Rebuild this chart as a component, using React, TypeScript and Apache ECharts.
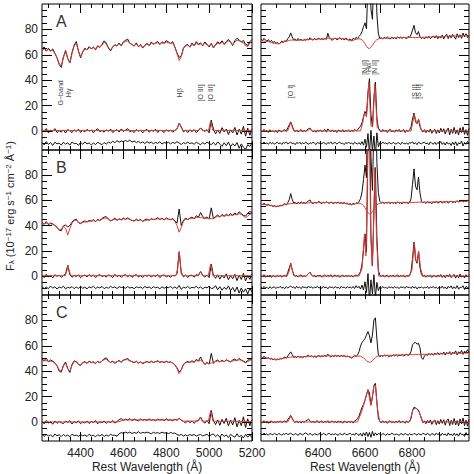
import React, { useEffect, useRef } from 'react';
import * as echarts from 'echarts';

// ---------- axes ----------
const LEFT_MIN = 4220, LEFT_MAX = 5200, LEFT_STEP = 10;
const RIGHT_MIN = 6200, RIGHT_MAX = 6900, RIGHT_STEP = 5;
const Y_MIN = -15, Y_MAX = 100;
const Y_LABELS = [0, 20, 40, 60, 80];
const LEFT_TICKS = [4400, 4600, 4800, 5000, 5200];
const RIGHT_TICKS = [6400, 6600, 6800];
const PANEL_LETTERS = ['A', 'B', 'C'];
const X_TITLE = 'Rest Wavelength (Å)';

// ---------- panel A, blue side (4220-5200, every 10 Å) ----------
const A_L_OBS = [
  64.5, 66.2, 62.8, 65.1, 63.0, 64.6, 61.2, 57.8, 52.4, 50.1,
  58.3, 63.4, 57.2, 53.6, 61.8, 67.5, 70.4, 63.1, 57.6, 62.4,
  65.2, 63.8, 66.4, 64.7, 66.1, 63.9, 67.2, 65.8, 68.3, 71.0,
  69.2, 65.4, 63.1, 66.3, 68.0, 66.9, 69.3, 67.1, 70.2, 71.4,
  72.3, 69.0, 68.2, 66.8, 69.4, 66.2, 68.1, 65.3, 67.4, 69.1,
  67.2, 70.1, 68.3, 69.5, 70.4, 68.1, 70.2, 69.0, 71.2, 70.1,
  68.9, 70.3, 66.2, 61.4, 57.9, 59.3, 65.2, 67.4, 68.1, 66.0,
  69.2, 67.1, 70.3, 68.2, 69.4, 67.0, 70.1, 68.3, 66.2, 69.0,
  65.4, 68.1, 70.2, 68.8, 71.0, 68.2, 70.4, 72.1, 70.0, 67.3,
  71.2, 73.0, 71.8, 70.1, 71.3, 68.2, 67.4, 70.3, 72.0,
];
const A_L_MOD = [
  63.5, 64.5, 63.5, 64.0, 63.0, 63.5, 61.0, 57.5, 53.0, 51.5,
  58.0, 62.5, 57.0, 53.5, 61.0, 67.0, 69.0, 63.0, 58.5, 62.0,
  64.5, 64.0, 65.5, 65.0, 65.5, 64.5, 66.5, 66.0, 67.5, 70.0,
  68.5, 65.5, 64.0, 66.0, 67.5, 67.0, 68.5, 67.5, 69.5, 70.5,
  71.0, 69.0, 68.0, 67.0, 68.5, 66.5, 67.5, 66.0, 67.0, 68.5,
  67.5, 69.0, 68.5, 69.0, 69.5, 68.5, 69.5, 69.0, 70.0, 69.5,
  69.0, 69.5, 66.0, 61.0, 55.5, 58.5, 65.0, 67.0, 67.5, 66.5,
  68.0, 67.5, 69.0, 68.0, 68.5, 67.5, 69.0, 68.0, 66.5, 68.5,
  66.0, 67.5, 69.0, 68.5, 70.0, 68.5, 69.5, 71.0, 70.0, 68.0,
  70.0, 71.5, 71.0, 70.0, 69.5, 67.0, 66.5, 69.0, 71.0,
];
const A_L_EM = [
  1.2, -0.8, 1.9, -1.5, 0.6, -0.4, 1.8, -1.2, 0.3, -0.9,
  0.8, -1.6, 1.1, 0.2, -1.3, 0.9, -0.5, 1.4, -1.1, 0.5,
  -0.7, 1.3, -0.2, 0.8, -1.4, 0.6, 1.7, -0.6, 0.4, -1.0,
  0.9, -0.3, 1.5, -1.2, 0.2, 1.0, -0.8, 1.6, -0.4, 0.7,
  1.8, -0.6, 0.3, -1.3, 1.1, -0.2, 0.7, -1.5, 0.4, 1.2,
  -0.9, 0.6, -0.3, 1.4, -1.1, 0.5, 0.2, -1.2, 0.9, -0.4,
  0.7, -1.0, 0.4, 1.6, 6.1, 3.2, -0.8, 0.6, -1.2, 0.9,
  -0.5, 1.1, -1.4, 0.3, 2.4, 0.6, -0.3, 1.0, -1.5, 8.6,
  1.4, -2.3, 0.8, -1.9, 2.6, -0.7, 1.5, -2.8, 0.9, -1.6,
  2.8, -3.2, 1.4, -2.5, 3.6, -4.1, 2.2, -3.4, 1.6,
];
const A_L_EM_MOD = [
  [4220, 0.4], [4845, 0.4], [4855, 3.5], [4862, 5.8], [4870, 2.5], [4880, 0.4],
  [4950, 0.4], [4959, 2.2], [4968, 0.4], [4997, 0.4], [5007, 8.0], [5017, 0.4], [5200, 0.4],
];
const A_L_RES = [
  -9.2, -11.0, -8.4, -10.6, -9.1, -11.4, -8.8, -10.2, -9.6, -11.1,
  -8.9, -10.4, -9.3, -11.2, -8.7, -10.0, -9.8, -11.3, -9.0, -10.5,
  -8.6, -10.2, -9.4, -11.0, -9.5, -10.7, -8.9, -9.9, -10.8, -9.1,
  -10.3, -8.8, -9.6, -8.1, -9.2, -7.6, -8.9, -7.9, -8.5, -7.4,
  -8.3, -7.2, -8.8, -7.9, -9.1, -8.2, -9.5, -8.6, -9.9, -8.4,
  -9.6, -8.8, -10.1, -9.0, -9.8, -8.5, -10.3, -9.1, -9.7, -8.9,
  -10.2, -9.0, -9.8, -8.4, -9.5, -10.6, -9.2, -10.1, -8.8, -9.9,
  -9.3, -10.5, -8.9, -9.8, -10.9, -9.2, -10.4, -8.7, -9.9, -10.8,
  -9.0, -11.2, -8.6, -10.4, -12.1, -9.3, -11.5, -8.8, -12.4, -10.0,
  -11.8, -9.1, -13.6, -10.2, -12.9, -14.5, -10.8, -12.2, -9.6,
];

// ---------- panel B, blue side ----------
const B_L_OBS = [
  42.6, 41.0, 43.2, 40.8, 42.1, 41.5, 40.2, 38.6, 36.4, 36.0,
  39.8, 40.6, 38.9, 40.2, 42.8, 44.5, 45.1, 42.4, 41.6, 43.0,
  43.8, 42.9, 44.2, 43.5, 44.8, 43.2, 45.0, 44.1, 45.6, 46.8,
  47.1, 45.2, 43.8, 44.6, 45.9, 44.3, 45.4, 44.7, 46.0, 45.1,
  46.2, 45.0, 44.1, 43.6, 45.2, 44.0, 44.9, 43.4, 44.6, 45.3,
  44.1, 45.6, 44.8, 45.2, 46.3, 45.0, 45.8, 44.6, 46.1, 45.2,
  44.7, 45.6, 43.9, 42.0, 53.2, 40.1, 44.2, 46.0, 44.8, 45.9,
  46.8, 45.5, 47.9, 46.6, 50.4, 47.2, 45.8, 46.9, 45.3, 54.1,
  45.6, 47.2, 48.4, 46.8, 48.9, 47.5, 49.1, 47.8, 49.6, 48.2,
  50.1, 48.7, 51.0, 49.4, 48.2, 47.6, 49.8, 51.2, 50.4,
];
const B_L_MOD = [
  42.0, 41.5, 42.0, 41.5, 41.5, 41.0, 40.0, 38.5, 36.5, 37.0,
  39.5, 38.0, 32.5, 37.5, 42.0, 44.0, 44.5, 42.5, 42.0, 42.5,
  43.0, 43.0, 43.5, 43.5, 44.0, 43.5, 44.5, 44.0, 45.0, 46.0,
  46.0, 45.0, 44.0, 44.5, 45.0, 44.5, 45.0, 44.5, 45.5, 45.0,
  45.5, 45.0, 44.0, 44.0, 44.5, 44.0, 44.5, 43.5, 44.0, 44.5,
  44.5, 45.0, 45.0, 45.0, 45.5, 45.0, 45.5, 45.0, 45.5, 45.0,
  45.0, 45.0, 43.5, 40.0, 34.8, 38.5, 43.5, 45.0, 45.0, 45.5,
  46.0, 45.5, 46.5, 46.5, 46.5, 46.0, 45.5, 46.0, 45.5, 45.5,
  45.5, 46.5, 47.5, 47.0, 48.0, 47.5, 48.0, 48.0, 48.5, 48.0,
  49.0, 48.5, 49.5, 49.0, 47.5, 46.5, 47.5, 49.0, 49.5,
];
const B_L_EM = [
  0.9, -1.2, 1.5, -0.6, 0.3, -1.4, 1.1, -0.2, 0.7, -1.0,
  0.5, 1.8, 8.4, 1.2, -0.9, 0.6, -0.4, 1.0, -1.3, 0.2,
  0.8, -0.7, 1.2, -0.3, 0.9, -1.1, 0.4, 1.3, -0.5, 0.6,
  -0.8, 1.0, 0.2, -1.2, 1.4, -0.4, 0.7, -0.9, 0.5, 1.1,
  -0.6, 0.9, -1.0, 0.4, 1.2, -0.7, 0.3, -1.1, 0.8, -0.2,
  1.0, -0.8, 0.6, -0.3, 1.1, -1.2, 0.5, 0.9, -0.6, 0.3,
  -1.0, 0.7, 0.2, 1.8, 19.2, 2.1, -0.6, 0.9, -1.1, 0.4,
  0.8, -0.9, 1.2, 0.5, 3.6, 0.7, -0.8, 0.9, -1.2, 9.6,
  0.4, -1.8, 1.0, -2.4, 0.6, -1.5, 1.8, -2.9, 0.3, -2.1,
  1.4, -3.6, 0.8, -2.7, 2.2, -3.9, 0.5, -2.6, 1.9,
];
const B_L_EM_MOD = [
  [4220, 0.3], [4328, 0.3], [4336, 4], [4341, 8.8], [4347, 4], [4355, 0.3],
  [4845, 0.3], [4853, 6], [4861, 19.5], [4868, 6], [4876, 0.3],
  [4948, 0.3], [4959, 3.4], [4970, 0.3], [4996, 0.3], [5007, 9.6], [5018, 0.3], [5200, 0.3],
];
const B_L_RES = [
  -8.2, -10.1, -8.8, -9.9, -7.9, -9.6, -8.4, -10.3, -8.7, -9.4,
  -8.0, -10.2, -8.9, -9.5, -8.3, -10.0, -8.6, -9.8, -8.1, -9.7,
  -8.8, -10.1, -8.5, -9.3, -8.0, -9.9, -8.7, -9.4, -8.2, -10.0,
  -8.9, -9.6, -8.1, -9.2, -8.6, -9.9, -8.4, -9.1, -8.8, -9.7,
  -8.3, -9.5, -8.9, -10.0, -8.5, -9.2, -8.7, -9.8, -8.2, -9.4,
  -8.6, -9.9, -8.4, -9.3, -8.8, -10.1, -8.5, -9.6, -8.9, -9.2,
  -8.3, -9.7, -8.6, -9.9, -7.4, -10.6, -8.7, -9.5, -8.2, -9.8,
  -8.9, -9.4, -8.1, -9.7, -8.5, -10.2, -8.8, -9.3, -8.0, -9.9,
  -9.5, -7.6, -10.8, -8.4, -11.2, -8.9, -10.5, -7.8, -11.6, -9.0,
  -12.3, -8.6, -13.5, -9.4, -12.8, -10.1, -14.2, -9.7, -12.6,
];

// ---------- panel C, blue side ----------
const C_L_OBS = [
  49.6, 48.2, 50.3, 47.4, 48.8, 47.9, 46.5, 44.3, 40.1, 39.2,
  44.6, 47.2, 42.1, 39.0, 45.3, 48.1, 47.6, 45.2, 44.6, 46.8,
  47.5, 46.1, 48.0, 46.8, 47.3, 45.9, 47.8, 46.5, 48.2, 49.7,
  50.6, 48.1, 46.9, 47.8, 46.2, 47.4, 48.5, 46.9, 48.8, 49.4,
  49.9, 48.3, 47.5, 46.6, 47.9, 46.3, 47.4, 45.8, 46.9, 47.7,
  46.5, 47.9, 46.8, 47.5, 48.2, 47.0, 47.6, 46.8, 47.9, 46.9,
  47.3, 46.4, 45.1, 42.6, 39.3, 41.2, 45.4, 46.8, 47.6, 46.9,
  48.2, 47.1, 49.3, 48.0, 51.2, 47.6, 45.2, 46.8, 45.5, 54.0,
  46.3, 47.9, 48.8, 47.2, 48.6, 47.4, 49.0, 48.1, 47.3, 48.8,
  49.5, 48.2, 50.1, 48.7, 47.9, 47.0, 48.4, 49.6, 49.2,
];
const C_L_MOD = [
  48.5, 48.0, 48.5, 47.5, 48.0, 47.5, 46.5, 44.5, 41.0, 40.0,
  44.0, 46.5, 42.0, 40.0, 44.5, 47.5, 47.5, 45.5, 45.0, 46.5,
  47.0, 46.5, 47.5, 47.0, 47.0, 46.5, 47.5, 47.0, 48.0, 49.0,
  49.5, 48.0, 47.0, 47.5, 47.0, 47.5, 48.0, 47.5, 48.5, 49.0,
  49.0, 48.0, 47.5, 47.0, 47.5, 46.5, 47.0, 46.5, 47.0, 47.5,
  47.0, 47.5, 47.0, 47.5, 47.5, 47.0, 47.5, 47.0, 47.5, 47.0,
  47.0, 46.5, 45.0, 42.0, 38.0, 41.0, 45.0, 46.5, 47.0, 47.0,
  47.5, 47.0, 48.5, 48.0, 48.5, 47.5, 46.0, 46.5, 46.0, 46.5,
  46.5, 47.5, 48.0, 47.5, 48.0, 47.5, 48.5, 48.0, 47.5, 48.0,
  48.5, 48.5, 49.0, 48.5, 47.5, 46.5, 47.5, 48.5, 49.0,
];
const C_L_EM = [
  0.6, -1.5, 1.1, -0.9, 0.2, -1.8, 0.8, -1.1, 0.4, -0.6,
  -1.3, 0.7, -0.4, 1.0, -1.6, 0.3, -0.8, 0.9, -1.4, 0.1,
  -0.9, 0.8, -1.2, 0.4, -0.5, 1.1, -1.5, 0.2, -0.7, 0.9,
  -1.1, 0.5, -0.6, 1.2, -0.9, 0.3, 1.8, 2.6, 1.2, 2.3,
  1.4, 2.7, 1.0, 2.2, 1.6, 0.8, 2.4, 1.3, 2.0, 1.1,
  2.5, 1.2, 1.9, 0.9, 2.3, 1.5, 2.0, 1.0, 2.6, 1.4,
  1.7, 0.9, 2.2, 1.3, 2.8, 1.6, 0.4, -0.8, 0.9, -0.5,
  0.6, -1.1, 0.8, 1.2, 3.9, 0.5, -0.9, 1.2, -1.4, 9.1,
  0.8, -2.1, 1.6, -2.6, 2.0, -1.2, 2.9, -3.1, 1.5, -2.4,
  3.4, -3.8, 1.2, -2.9, 4.1, -4.4, 2.5, -3.0, 1.8,
];
const C_L_EM_MOD = [
  [4220, 0], [4575, 0], [4600, 1.6], [4840, 1.6], [4852, 2.0], [4861, 2.8], [4870, 1.2],
  [4880, 0.6], [4950, 0.8], [4959, 3.6], [4968, 0.6], [4996, 0.6], [5007, 8.8], [5018, 0.6], [5200, 0.4],
];
const C_L_RES = [
  -9.6, -11.4, -9.9, -11.0, -10.2, -11.8, -9.5, -10.9, -10.1, -11.5,
  -9.8, -11.2, -10.3, -11.6, -9.7, -10.8, -10.4, -11.3, -9.9, -11.0,
  -10.2, -11.5, -9.6, -10.9, -10.5, -11.7, -10.0, -11.1, -9.8, -11.4,
  -10.3, -11.2, -9.7, -10.6, -10.4, -11.3, -9.2, -8.4, -9.1, -8.0,
  -8.8, -7.9, -9.2, -8.3, -8.9, -7.7, -9.0, -8.2, -8.7, -8.0,
  -8.6, -9.3, -8.1, -8.9, -8.4, -9.1, -8.0, -8.8, -8.5, -9.2,
  -8.3, -9.0, -8.7, -9.9, -10.6, -9.8, -11.1, -10.2, -10.9, -9.9,
  -10.7, -9.8, -11.2, -10.3, -9.9, -11.0, -10.4, -9.7, -11.3, -10.1,
  -9.4, -11.6, -10.0, -12.1, -9.5, -11.4, -10.2, -12.3, -9.8, -11.0,
  -12.0, -9.3, -11.8, -10.5, -12.6, -9.7, -11.9, -10.3, -12.4,
];

// ---------- panel A, red side (6200-6900, every 5 Å) ----------
const A_R_OBS = [
  72.4, 71.1, 72.9, 71.6, 70.8, 72.0, 70.2, 71.4, 69.6, 70.5,
  68.9, 69.8, 68.4, 69.5, 70.8, 69.7, 71.2, 70.4, 72.6, 74.1,
  77.2, 74.0, 71.8, 72.5, 71.2, 72.8, 71.5, 72.3, 70.9, 72.1,
  71.4, 72.6, 71.8, 73.4, 72.2, 71.5, 72.9, 71.7, 72.4, 73.1,
  71.9, 72.8, 71.6, 73.0, 72.1, 76.9, 73.5, 72.2, 71.4, 72.7,
  73.2, 71.8, 72.5, 73.6, 72.0, 72.9, 71.6, 73.1, 72.4, 71.5,
  72.6, 71.2, 73.0, 72.1, 73.8, 72.7, 74.5, 75.8, 78.4, 82.1,
  85.2, 80.4, 118.0, 135.0, 96.0, 88.0, 125.0, 140.0, 92.0, 76.5,
  72.8, 73.6, 72.3, 73.9, 72.7, 74.1, 73.0, 72.4, 73.8, 72.9,
  73.5, 72.6, 74.2, 73.1, 73.9, 72.8, 74.0, 73.3, 72.7, 74.4,
  73.6, 75.8, 79.5, 83.2, 77.4, 75.9, 78.3, 74.2, 72.9, 73.7,
  72.5, 74.1, 73.0, 74.6, 72.8, 73.9, 74.8, 73.2, 75.1, 72.6,
  74.3, 73.1, 75.6, 72.4, 74.9, 76.2, 72.8, 75.4, 73.3, 76.0,
  74.1, 72.3, 76.5, 73.6, 75.8, 72.9, 77.1, 74.0, 76.6, 73.5,
  75.2,
];
const A_R_MOD = [
  71.0, 71.0, 70.8, 70.6, 70.4, 70.3, 70.0, 69.6, 69.2, 69.0,
  68.8, 68.7, 68.8, 69.1, 69.5, 69.9, 70.3, 70.6, 70.9, 71.3,
  71.6, 71.6, 71.5, 71.4, 71.3, 71.4, 71.5, 71.6, 71.5, 71.6,
  71.7, 71.8, 71.9, 72.1, 72.2, 72.1, 72.2, 72.3, 72.4, 72.5,
  72.4, 72.5, 72.6, 72.8, 73.0, 73.2, 73.0, 72.7, 72.6, 72.7,
  72.8, 72.7, 72.6, 72.7, 72.8, 72.7, 72.5, 72.3, 72.0, 71.6,
  71.2, 71.0, 71.3, 71.8, 72.2, 72.5, 72.6, 72.4, 71.8, 70.5,
  68.6, 66.6, 65.3, 65.0, 65.8, 67.4, 69.3, 70.9, 71.9, 72.5,
  72.7, 72.8, 72.9, 73.0, 73.0, 73.1, 73.1, 73.2, 73.2, 73.3,
  73.3, 73.3, 73.4, 73.4, 73.5, 73.5, 73.5, 73.6, 73.6, 73.7,
  73.7, 73.7, 73.6, 73.5, 73.5, 73.6, 73.7, 73.8, 73.7, 73.8,
  73.8, 73.9, 73.9, 74.0, 74.0, 74.1, 74.1, 74.2, 74.2, 74.3,
  74.3, 74.4, 74.4, 74.5, 74.5, 74.6, 74.6, 74.7, 74.7, 74.8,
  74.8, 74.9, 74.9, 75.0, 75.0, 75.1, 75.1, 75.2, 75.2, 75.3,
  75.3,
];
const A_R_EM = [
  0.6, -0.8, 1.2, -0.4, 0.3, -1.1, 0.9, -0.5, 0.2, -0.9,
  0.4, -1.3, 0.8, -0.2, -0.7, 0.5, 1.1, -0.3, 2.4, 4.8,
  7.2, 4.1, 1.0, -0.6, 0.8, -0.9, 0.3, 1.0, -0.8, 0.5,
  -0.4, 0.9, 1.8, 2.2, 0.6, -0.7, 0.4, -1.0, 0.7, -0.3,
  0.8, -0.6, 0.2, 1.1, -0.9, 1.6, 0.3, -0.5, 0.9, -0.8,
  0.5, -1.2, 0.7, 0.2, -0.6, 1.0, -0.9, 0.4, -0.2, 0.8,
  -0.7, 0.5, -0.3, 1.2, 0.1, 0.9, 2.4, 3.8, 6.5, 11.2,
  15.4, 12.8, 30.5, 41.2, 12.6, 3.4, 26.1, 38.5, 10.2, 2.3,
  0.6, -0.9, 1.1, -0.4, 0.8, -1.2, 0.5, 1.3, -0.7, 0.2,
  -1.0, 0.9, -0.3, 1.2, -0.8, 0.4, 1.0, -1.3, 0.6, -0.5,
  0.8, 3.2, 9.5, 14.1, 7.2, 5.8, 9.0, 3.4, 0.6, -0.8,
  1.1, -1.4, 0.7, -0.9, 1.5, -1.8, 0.4, 1.2, -2.0, 0.9,
  -1.6, 2.1, -0.8, 1.7, -2.4, 0.6, 2.3, -3.0, 1.4, -1.9,
  2.8, -2.2, 0.9, -3.1, 2.5, -1.3, 3.2, -2.7, 1.0, -3.4,
  2.0,
];
const A_R_EM_MOD = [
  [6200, 0], [6290, 0], [6300, 6.5], [6310, 0], [6355, 0], [6364, 1.5], [6372, 0],
  [6535, 0], [6542, 6], [6548, 14], [6555, 11], [6563, 38], [6570, 4], [6576, 4],
  [6583, 37], [6591, 3], [6600, 0], [6705, 0], [6716, 13], [6724, 6], [6731, 9], [6740, 0], [6900, 0],
];
const A_R_RES = [
  -9.1, -10.3, -8.7, -9.9, -9.4, -10.5, -8.9, -10.0, -9.2, -10.4,
  -9.6, -8.8, -10.1, -9.3, -10.6, -9.0, -9.8, -8.6, -10.2, -9.4,
  -8.9, -10.0, -9.5, -10.8, -9.1, -9.9, -8.7, -10.4, -9.3, -10.1,
  -8.8, -9.7, -10.5, -9.2, -10.0, -8.9, -9.6, -10.7, -9.0, -9.8,
  -9.4, -10.2, -8.9, -9.7, -10.6, -9.1, -9.9, -8.6, -10.3, -9.5,
  -9.0, -10.4, -9.3, -8.8, -10.1, -9.6, -10.8, -9.2, -9.9, -8.7,
  -10.0, -9.4, -10.6, -8.9, -9.8, -10.3, -9.1, -10.7, -8.4, -11.2,
  -6.5, -12.8, -2.0, -18.0, 0.5, -16.0, -4.0, -20.0, -1.5, -12.5,
  -9.2, -10.1, -8.8, -9.9, -9.3, -10.5, -9.0, -9.7, -10.2, -8.9,
  -9.8, -10.4, -9.1, -9.6, -10.7, -8.8, -9.9, -10.2, -9.4, -10.6,
  -9.0, -9.7, -8.5, -10.3, -9.2, -10.8, -8.9, -9.6, -10.1, -9.3,
  -8.8, -10.2, -9.5, -10.9, -8.6, -9.8, -10.4, -8.9, -10.7, -9.1,
  -9.9, -8.4, -10.6, -9.2, -11.1, -8.7, -10.3, -9.5, -11.4, -8.8,
  -10.8, -8.5, -11.6, -9.3, -10.2, -7.9, -11.9, -9.0, -10.5, -8.2,
  -10.0,
];

// ---------- panel B, red side ----------
const B_R_OBS = [
  57.6, 56.4, 57.9, 56.8, 56.2, 57.1, 55.6, 56.3, 55.2, 55.9,
  54.8, 55.6, 55.1, 56.3, 55.7, 56.8, 57.4, 56.5, 58.2, 60.6,
  65.4, 60.8, 57.9, 58.4, 57.2, 58.6, 57.5, 58.9, 57.8, 58.3,
  57.6, 58.8, 59.6, 60.4, 58.2, 57.4, 58.6, 57.9, 58.4, 59.2,
  58.1, 57.5, 58.7, 57.8, 59.0, 58.3, 57.6, 58.9, 58.0, 57.4,
  58.6, 57.9, 58.8, 57.5, 58.3, 57.7, 58.5, 57.3, 58.1, 56.8,
  57.5, 56.4, 57.8, 56.9, 58.2, 57.5, 59.1, 61.4, 66.8, 76.5,
  88.0, 78.0, 160.0, 210.0, 95.0, 68.0, 120.0, 150.0, 90.0, 66.0,
  59.2, 58.1, 58.7, 57.6, 58.4, 57.9, 58.8, 57.3, 58.5, 57.8,
  58.3, 57.5, 58.9, 57.7, 58.2, 57.4, 58.6, 57.9, 58.4, 57.6,
  58.3, 61.5, 72.8, 85.0, 71.2, 68.4, 78.6, 66.0, 59.4, 58.1,
  58.7, 57.6, 58.9, 58.0, 58.5, 57.4, 58.8, 58.2, 59.1, 57.9,
  58.6, 59.4, 57.8, 59.1, 58.3, 59.6, 57.9, 58.8, 59.5, 58.2,
  59.0, 58.4, 59.8, 58.6, 59.3, 60.2, 58.7, 59.6, 58.9, 60.3,
  59.4,
];
const B_R_MOD = [
  57.0, 56.9, 56.8, 56.6, 56.4, 56.2, 56.0, 55.8, 55.6, 55.5,
  55.4, 55.4, 55.5, 55.7, 55.9, 56.2, 56.5, 56.8, 57.1, 57.3,
  57.5, 57.6, 57.6, 57.7, 57.7, 57.8, 57.8, 57.9, 57.9, 57.9,
  58.0, 58.0, 58.1, 58.1, 58.2, 58.1, 58.1, 58.2, 58.2, 58.3,
  58.3, 58.2, 58.3, 58.3, 58.4, 58.4, 58.3, 58.3, 58.2, 58.2,
  58.2, 58.1, 58.1, 58.0, 57.9, 57.8, 57.7, 57.5, 57.3, 57.0,
  56.8, 56.6, 56.9, 57.3, 57.6, 57.8, 57.8, 57.6, 57.0, 55.9,
  54.2, 52.2, 50.4, 49.3, 49.6, 51.0, 53.0, 55.0, 56.5, 57.4,
  57.8, 58.0, 58.1, 58.1, 58.2, 58.2, 58.2, 58.3, 58.3, 58.3,
  58.3, 58.4, 58.4, 58.4, 58.4, 58.5, 58.5, 58.5, 58.5, 58.5,
  58.5, 58.5, 58.4, 58.4, 58.5, 58.5, 58.6, 58.6, 58.6, 58.6,
  58.6, 58.7, 58.7, 58.7, 58.7, 58.8, 58.8, 58.8, 58.8, 58.9,
  58.9, 58.9, 58.9, 59.0, 59.0, 59.0, 59.0, 59.1, 59.1, 59.1,
  59.1, 59.2, 59.2, 59.2, 59.2, 59.3, 59.3, 59.3, 59.3, 59.4,
  59.4,
];
const B_R_EM = [
  0.8, -0.6, 1.1, -0.9, 0.4, -0.3, 0.9, -1.0, 0.5, -0.2,
  -0.7, 0.6, -0.4, 0.8, -0.9, 0.3, 0.7, -0.5, 2.8, 6.4,
  10.2, 5.2, 0.8, -0.4, 0.6, -0.8, 0.4, 1.0, -0.6, 0.3,
  -0.5, 0.8, 1.9, 3.1, 0.9, -0.4, 0.7, -0.8, 0.5, 0.2,
  0.6, -0.9, 0.4, 0.9, -0.5, 0.7, -0.3, 1.1, -0.8, 0.2,
  0.9, -0.4, 0.6, -1.0, 0.3, 0.8, -0.6, 0.4, -0.2, 0.7,
  -0.5, 0.6, -0.8, 0.4, 0.9, 0.2, 1.5, 3.6, 9.2, 21.0,
  33.5, 19.0, 110.0, 165.0, 32.0, 8.5, 52.0, 86.0, 31.0, 4.5,
  0.8, -0.5, 0.9, -0.7, 0.3, 0.6, -0.9, 0.5, -0.3, 0.8,
  -0.6, 0.4, 0.9, -0.8, 0.5, -0.2, 0.7, -0.9, 0.4, 0.1,
  0.6, 3.5, 14.2, 27.0, 13.1, 10.2, 19.4, 6.8, 1.2, -0.4,
  0.7, -0.9, 0.5, -0.3, 0.8, -1.1, 0.6, 0.2, -0.8, 0.9,
  -0.4, 1.2, -1.0, 0.6, -1.3, 1.0, -0.5, 1.4, -1.1, 0.3,
  1.3, -1.6, 0.8, -1.2, 1.7, -0.9, 0.4, -1.5, 1.1, -0.7,
  0.9,
];
const B_R_EM_MOD = [
  [6200, 0], [6288, 0], [6295, 4], [6300, 10], [6306, 4], [6314, 0], [6352, 0], [6364, 3], [6375, 0],
  [6530, 0], [6540, 6], [6548, 33], [6553, 16], [6557, 60], [6563, 160], [6569, 35], [6574, 8],
  [6578, 30], [6583, 86], [6589, 28], [6596, 0], [6700, 0], [6708, 5], [6716, 27], [6722, 12],
  [6726, 11], [6731, 19.5], [6737, 6], [6745, 0], [6900, 0],
];
const B_R_RES = [
  -8.6, -9.8, -8.2, -9.5, -8.9, -10.1, -8.4, -9.7, -9.0, -8.5,
  -9.9, -8.7, -9.3, -8.1, -9.6, -8.8, -10.0, -8.3, -9.4, -8.6,
  -7.8, -9.2, -8.5, -9.9, -8.0, -9.4, -8.7, -10.0, -8.3, -9.1,
  -8.8, -9.6, -7.9, -9.3, -8.4, -9.8, -8.6, -9.2, -8.1, -9.5,
  -8.9, -9.7, -8.2, -9.4, -8.7, -10.1, -8.5, -9.0, -8.8, -9.6,
  -8.3, -9.5, -8.9, -9.9, -8.1, -9.3, -8.6, -9.8, -8.4, -9.2,
  -8.7, -9.6, -8.2, -9.9, -7.6, -9.4, -8.1, -10.3, -7.2, -11.0,
  -4.5, -13.0, 2.0, -19.5, -3.0, -14.0, 1.0, -17.0, -5.0, -11.5,
  -8.6, -9.8, -8.3, -9.5, -8.8, -10.0, -8.4, -9.2, -8.7, -9.6,
  -8.2, -9.4, -8.9, -9.9, -8.5, -9.1, -8.7, -9.7, -8.0, -9.3,
  -8.6, -9.8, -8.1, -9.5, -8.4, -10.2, -8.8, -9.3, -8.5, -9.7,
  -8.9, -9.4, -8.2, -9.9, -8.6, -9.1, -8.3, -9.6, -8.8, -10.0,
  -8.4, -9.5, -7.9, -9.8, -8.7, -10.3, -8.1, -9.4, -7.8, -10.1,
  -8.5, -9.9, -7.6, -10.4, -8.8, -9.2, -7.7, -10.6, -8.3, -9.0,
  -8.6,
];

// ---------- panel C, red side ----------
const C_R_OBS = [
  51.3, 50.4, 51.8, 50.6, 49.9, 50.8, 49.4, 50.1, 48.9, 49.6,
  48.7, 49.5, 49.0, 50.2, 49.6, 50.5, 51.1, 50.3, 52.0, 53.6,
  55.2, 53.1, 51.0, 51.6, 50.7, 51.9, 50.9, 51.5, 50.4, 51.8,
  51.2, 52.0, 52.6, 51.4, 52.2, 51.0, 51.8, 50.9, 51.7, 52.3,
  51.3, 52.1, 51.5, 52.4, 51.6, 53.4, 52.0, 51.2, 52.3, 51.4,
  52.5, 51.7, 52.2, 51.3, 52.6, 51.8, 52.4, 51.1, 52.0, 51.5,
  51.0, 50.2, 51.4, 52.5, 51.6, 52.8, 55.4, 59.8, 62.6, 64.1,
  65.8, 68.4, 71.2, 68.0, 62.3, 68.5, 80.2, 82.0, 65.4, 52.6,
  51.4, 52.3, 51.6, 52.7, 51.9, 52.5, 51.3, 52.2, 51.7, 52.8,
  52.1, 52.9, 51.8, 52.6, 52.3, 53.1, 52.0, 52.7, 53.3, 52.4,
  53.0, 55.6, 60.8, 62.1, 62.8, 61.2, 62.0, 58.4, 50.6, 49.3,
  51.8, 53.2, 52.4, 54.0, 52.8, 53.9, 52.5, 54.2, 53.1, 54.6,
  52.9, 54.4, 53.3, 55.1, 52.7, 54.8, 53.6, 55.4, 52.9, 55.0,
  53.7, 56.0, 52.8, 55.3, 54.1, 56.4, 53.2, 55.8, 54.5, 56.9,
  54.8,
];
const C_R_MOD = [
  50.8, 50.7, 50.6, 50.5, 50.3, 50.1, 49.9, 49.7, 49.5, 49.4,
  49.3, 49.3, 49.4, 49.6, 49.8, 50.0, 50.3, 50.5, 50.7, 50.9,
  51.0, 51.1, 51.1, 51.2, 51.2, 51.3, 51.3, 51.3, 51.4, 51.4,
  51.5, 51.5, 51.6, 51.6, 51.7, 51.7, 51.7, 51.8, 51.8, 51.8,
  51.9, 51.9, 52.0, 52.0, 52.0, 52.1, 52.1, 52.0, 52.0, 52.0,
  52.1, 52.1, 52.1, 52.0, 52.0, 51.9, 51.9, 51.8, 51.6, 51.4,
  51.2, 51.0, 51.2, 51.5, 51.7, 51.8, 51.9, 51.7, 51.2, 50.4,
  49.4, 48.3, 47.4, 47.0, 47.3, 48.3, 49.6, 50.8, 51.6, 52.0,
  52.2, 52.3, 52.3, 52.4, 52.4, 52.5, 52.5, 52.6, 52.6, 52.6,
  52.7, 52.7, 52.8, 52.8, 52.8, 52.9, 52.9, 53.0, 53.0, 53.0,
  53.1, 53.1, 53.0, 53.0, 53.1, 53.1, 53.2, 53.2, 53.2, 53.3,
  53.3, 53.3, 53.4, 53.4, 53.4, 53.5, 53.5, 53.5, 53.6, 53.6,
  53.6, 53.7, 53.7, 53.7, 53.8, 53.8, 53.8, 53.9, 53.9, 53.9,
  54.0, 54.0, 54.0, 54.1, 54.1, 54.1, 54.2, 54.2, 54.2, 54.3,
  54.3,
];
const C_R_EM = [
  0.5, -0.9, 1.0, -0.4, 0.7, -1.1, 0.3, 0.8, -0.6, 0.2,
  -0.8, 0.6, -0.3, 0.9, -0.5, 0.4, 0.8, -0.2, 1.9, 3.4,
  5.1, 3.0, 0.6, -0.5, 0.9, -0.7, 0.4, -0.9, 0.6, -0.3,
  0.7, 1.4, 2.2, 0.8, -0.4, 0.6, -0.8, 0.5, 0.9, -0.6,
  0.3, 0.8, -0.7, 0.5, -0.2, 1.0, -0.9, 0.4, 0.7, -0.5,
  0.6, -0.8, 0.9, -0.3, 0.5, -1.0, 0.7, 0.2, -0.6, 0.8,
  -0.4, 0.6, -0.9, 0.8, 1.4, 2.8, 4.6, 8.2, 11.5, 13.8,
  17.2, 21.6, 25.4, 22.8, 13.4, 19.6, 28.7, 30.4, 15.8, 3.2,
  0.6, -0.8, 0.9, -0.5, 0.7, -1.1, 0.4, 0.9, -0.6, 0.3,
  -0.9, 0.8, -0.4, 1.1, -0.7, 0.5, 0.2, -1.0, 0.8, -0.3,
  0.5, 2.8, 8.9, 11.6, 11.0, 10.2, 9.4, 6.0, 2.4, -0.6,
  0.9, -1.4, 1.2, -0.8, 1.6, -1.9, 0.7, 1.5, -2.2, 1.0,
  -1.7, 2.0, -1.1, 1.8, -2.5, 0.9, 2.4, -2.8, 1.3, -2.0,
  2.7, -2.3, 1.1, -3.2, 2.4, -1.6, 3.1, -2.9, 1.4, -3.3,
  1.8,
];
const C_R_EM_MOD = [
  [6200, 0], [6290, 0], [6300, 4.5], [6312, 0], [6525, 0], [6540, 9], [6550, 17], [6560, 25],
  [6570, 13], [6580, 28], [6585, 29], [6592, 10], [6600, 0], [6700, 0], [6712, 10], [6722, 11],
  [6732, 8], [6745, 0], [6900, 0],
];
const C_R_RES = [
  -9.0, -10.2, -8.8, -9.9, -9.3, -10.5, -9.1, -9.7, -10.1, -8.9,
  -9.6, -10.3, -9.0, -9.8, -10.4, -9.2, -9.9, -8.7, -10.0, -9.4,
  -8.9, -9.8, -10.3, -9.1, -9.7, -10.6, -9.0, -9.5, -10.2, -9.3,
  -8.6, -9.4, -10.1, -9.0, -9.9, -10.5, -9.2, -9.8, -10.3, -9.1,
  -9.6, -10.2, -8.9, -9.7, -10.4, -9.3, -9.0, -10.1, -9.5, -10.0,
  -9.2, -9.9, -10.5, -9.1, -9.7, -10.3, -8.8, -9.6, -10.2, -9.4,
  -9.0, -10.1, -9.5, -10.4, -8.7, -9.8, -10.6, -8.9, -11.2, -8.5,
  -10.8, -7.9, -11.5, -8.2, -12.1, -7.4, -11.0, -8.6, -10.4, -9.1,
  -9.7, -10.3, -9.0, -9.8, -10.5, -9.2, -9.9, -10.1, -8.8, -9.6,
  -10.2, -9.4, -9.9, -10.6, -9.1, -9.7, -10.3, -9.0, -9.8, -10.4,
  -9.3, -9.9, -10.2, -9.0, -9.6, -10.4, -9.2, -9.8, -10.1, -8.9,
  -9.5, -10.3, -8.8, -9.9, -10.6, -9.1, -9.7, -10.5, -8.7, -10.0,
  -9.2, -10.8, -8.9, -10.1, -9.4, -11.0, -8.6, -10.3, -9.5, -10.9,
  -8.8, -10.6, -9.3, -11.2, -8.5, -10.0, -9.7, -11.4, -8.4, -10.2,
  -9.6,
];

// line identifications (text, wavelength, flux level of label centre)
const LEFT_LINE_IDS: [string, number, number][] = [
  ['G−band', 4304, 30], ['Hγ', 4345, 30], ['Hβ', 4861, 30], ['[O III]', 4959, 30], ['[O III]', 5007, 30],
];
const RIGHT_LINE_IDS: [string, number, number][] = [
  ['[O I]', 6300, 31], ['[N II]', 6548, 50], ['Hα', 6563, 50], ['[N II]', 6583, 50],
  ['[S II]', 6716, 31], ['[S II]', 6731, 31],
];

const FONT = '"Liberation Sans", "Helvetica", "Arial", sans-serif';
const RED = '#e23a36';
const BLACK = '#111';

const COLS = [{ left: 42, width: 210 }, { left: 261, width: 208 }];
const ROWS = [{ top: 4, height: 146 }, { top: 150, height: 145 }, { top: 295, height: 146 }];

const PANELS = [
  { obs: A_L_OBS, mod: A_L_MOD, em: A_L_EM, emMod: A_L_EM_MOD, res: A_L_RES },
  { obs: A_R_OBS, mod: A_R_MOD, em: A_R_EM, emMod: A_R_EM_MOD, res: A_R_RES },
  { obs: B_L_OBS, mod: B_L_MOD, em: B_L_EM, emMod: B_L_EM_MOD, res: B_L_RES },
  { obs: B_R_OBS, mod: B_R_MOD, em: B_R_EM, emMod: B_R_EM_MOD, res: B_R_RES },
  { obs: C_L_OBS, mod: C_L_MOD, em: C_L_EM, emMod: C_L_EM_MOD, res: C_L_RES },
  { obs: C_R_OBS, mod: C_R_MOD, em: C_R_EM, emMod: C_R_EM_MOD, res: C_R_RES },
];

function range(a: number, b: number, step: number) {
  const out: number[] = [];
  for (let v = a; v <= b + 1e-9; v += step) out.push(v);
  return out;
}

const WL_LEFT = range(LEFT_MIN, LEFT_MAX, LEFT_STEP);
const WL_RIGHT = range(RIGHT_MIN, RIGHT_MAX, RIGHT_STEP);

function pairs(wl: number[], vals: number[]) {
  return vals.map((v, i) => [wl[i], v]);
}

const plain = (v: number) => String(v);

function buildOption() {
  const grid: any[] = [];
  const xAxis: any[] = [];
  const yAxis: any[] = [];
  const series: any[] = [];

  const tickStyle = { color: '#000', width: 1 };
  const labelStyle = { fontFamily: FONT, fontSize: 12, color: '#222', formatter: plain };
  const noLine = { show: false, onZero: false };

  for (let r = 0; r < 3; r++) {
    for (let c = 0; c < 2; c++) {
      const g = r * 2 + c;
      grid.push({
        left: COLS[c].left, width: COLS[c].width, top: ROWS[r].top, height: ROWS[r].height,
        show: true, borderColor: '#000', borderWidth: 1, backgroundColor: 'transparent', containLabel: false,
      });
      const xmin = c === 0 ? LEFT_MIN : RIGHT_MIN;
      const xmax = c === 0 ? LEFT_MAX : RIGHT_MAX;
      const major = c === 0 ? LEFT_TICKS : RIGHT_TICKS;
      const minor = c === 0 ? range(4250, 5150, 50) : range(6250, 6850, 50);
      const isBottom = r === 2;
      const mk = (pos: string, ticks: number[], len: number, withLabel: boolean) => ({
        type: 'value', gridIndex: g, min: xmin, max: xmax, position: pos,
        axisLine: noLine, splitLine: { show: false },
        axisTick: { show: true, inside: true, length: len, customValues: ticks, lineStyle: tickStyle },
        axisLabel: withLabel
          ? { show: true, customValues: major, margin: 6, showMaxLabel: true, showMinLabel: true, ...labelStyle }
          : { show: false },
        name: withLabel ? X_TITLE : '',
        nameLocation: 'middle', nameGap: 20,
        nameTextStyle: { fontFamily: FONT, fontSize: 12, color: '#222' },
      });
      xAxis.push(mk('bottom', major, 9, isBottom && c === 0));
      xAxis.push(mk('bottom', minor, 4, false));
      xAxis.push(mk('top', major, 9, false));
      xAxis.push(mk('top', minor, 4, false));

      const yminor = range(-10, 95, 5);
      const mky = (pos: string, ticks: number[], len: number, withLabel: boolean) => ({
        type: 'value', gridIndex: g, min: Y_MIN, max: Y_MAX, position: pos,
        axisLine: noLine, splitLine: { show: false },
        axisTick: { show: true, inside: true, length: len, customValues: ticks, lineStyle: tickStyle },
        axisLabel: withLabel ? { show: true, customValues: Y_LABELS, margin: 4, ...labelStyle } : { show: false },
      });
      yAxis.push(mky('left', Y_LABELS, 10, c === 0));
      yAxis.push(mky('left', yminor, 5, false));
      yAxis.push(mky('right', Y_LABELS, 10, false));
      yAxis.push(mky('right', yminor, 5, false));

      const wl = c === 0 ? WL_LEFT : WL_RIGHT;
      const p = PANELS[g];
      const base = { type: 'line', xAxisIndex: g * 4, yAxisIndex: g * 4, symbol: 'none', showSymbol: false, silent: true, clip: true, animation: false };
      series.push({ ...base, data: pairs(wl, p.obs), lineStyle: { color: BLACK, width: 1 }, z: 2 });
      series.push({ ...base, data: pairs(wl, p.em), lineStyle: { color: BLACK, width: 1 }, z: 2 });
      series.push({ ...base, data: pairs(wl, p.res), lineStyle: { color: BLACK, width: 1 }, z: 2 });
      series.push({ ...base, data: pairs(wl, p.mod), lineStyle: { color: RED, width: 1 }, z: 3 });
      series.push({ ...base, data: p.emMod, lineStyle: { color: RED, width: 1 }, z: 3 });
    }
  }

  // Tick-label axis for the lower red-side panel (labels as placed in the reference)
  xAxis.push({
    type: 'value', gridIndex: 5, min: 6157, max: 7043, position: 'bottom',
    axisLine: noLine, axisTick: { show: false }, splitLine: { show: false },
    axisLabel: { show: true, customValues: RIGHT_TICKS, margin: 6, ...labelStyle },
    name: X_TITLE, nameLocation: 'middle', nameGap: 20,
    nameTextStyle: { fontFamily: FONT, fontSize: 12, color: '#222' },
  });

  const graphic: any[] = [];
  PANEL_LETTERS.forEach((L, r) => {
    graphic.push({
      type: 'text', x: 56, y: ROWS[r].top + 9,
      style: { text: L, fontFamily: FONT, fontSize: 16, fill: '#333' }, silent: true,
    });
  });
  graphic.push({
    type: 'text', x: 10, y: 206, rotation: Math.PI / 2, silent: true,
    style: {
      text: '{n|F}{sub|λ}{n| (10}{sup|−17}{n| erg s}{sup|−1}{n| cm}{sup|−2}{n| Å}{sup|−1}{n|)}',
      align: 'center', verticalAlign: 'middle', fill: '#222',
      rich: {
        n: { fontFamily: FONT, fontSize: 11, fill: '#222' },
        sub: { fontFamily: FONT, fontSize: 8, fill: '#222', verticalAlign: 'bottom' },
        sup: { fontFamily: FONT, fontSize: 8, fill: '#222', verticalAlign: 'top' },
      },
    },
  });

  return { animation: false, backgroundColor: '#fff', grid, xAxis, yAxis, series, graphic };
}

export default function App() {
  const ref = useRef<HTMLDivElement>(null);
  useEffect(() => {
    if (!ref.current) return;
    const chart = echarts.init(ref.current, null, { renderer: 'svg' });
    const option: any = buildOption();
    chart.setOption(option);

    // line identification labels, placed at their wavelengths via the axis scales
    const ids: any[] = [];
    const place = (list: [string, number, number][], g: number) => {
      list.forEach(([t, w, f]) => {
        const pt = chart.convertToPixel({ xAxisIndex: g * 4, yAxisIndex: g * 4 } as any, [w, f]) as number[];
        ids.push({
          type: 'text', x: pt[0], y: pt[1], rotation: Math.PI / 2, silent: true,
          style: { text: t, fontFamily: FONT, fontSize: 7, fill: '#444', align: 'center', verticalAlign: 'middle' },
        });
      });
    };
    place(LEFT_LINE_IDS, 0);
    place(RIGHT_LINE_IDS, 1);
    chart.setOption({ graphic: [...option.graphic, ...ids] } as any, { replaceMerge: ['graphic'] } as any);
    return () => chart.dispose();
  }, []);
  return <div ref={ref} style={{ position: 'absolute', left: 0, top: 0, width: 474, height: 474 }} />;
}
